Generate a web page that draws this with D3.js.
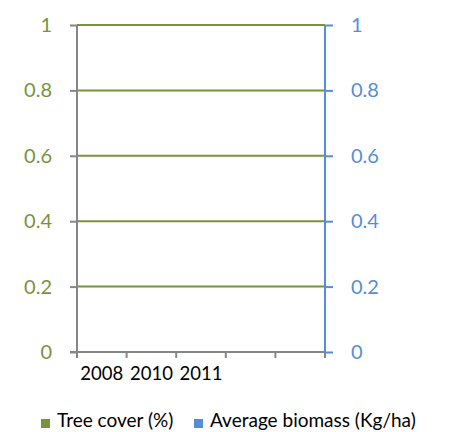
<!DOCTYPE html>
<html>
<head>
<meta charset="utf-8">
<script src="https://cdn.jsdelivr.net/npm/d3@7"></script>
<style>
body { margin: 0; background: #fff; overflow: hidden; }
svg text { font-family: "Lato", "Open Sans", sans-serif; }
</style>
</head>
<body>
<div id="chart"></div>
<script>
const W = 450, H = 432;
const margin = { top: 25, right: 125, bottom: 80, left: 77 };

// categories (two trailing slots have no label)
const years = ["2008", "2010", "2011", "c4", "c5"];
const yearLabels = ["2008", "2010", "2011", "", ""];
// series values: nothing plotted in the reference
const treeCover = [null, null, null, null, null];
const biomass = [null, null, null, null, null];
const leftTicks = [0, 0.2, 0.4, 0.6, 0.8, 1];
const rightTicks = [0, 0.2, 0.4, 0.6, 0.8, 1];
const seriesNames = ["Tree cover (%)", "Average biomass (Kg/ha)"];

const green = "#77933C", blue = "#558ED5", grey = "#868686";

const svg = d3.select("#chart").append("svg")
    .attr("width", W).attr("height", H);

const x = d3.scaleBand().domain(years).range([margin.left, W - margin.right]);
const yL = d3.scaleLinear().domain([0, 1]).range([H - margin.bottom, margin.top]);
const yR = d3.scaleLinear().domain([0, 1]).range([H - margin.bottom, margin.top]);

// gridlines
svg.append("g")
    .selectAll("line")
    .data(leftTicks.filter(d => d > 0))
    .enter()
    .append("line")
    .attr("x1", margin.left).attr("x2", W - margin.right)
    .attr("y1", d => yL(d)).attr("y2", d => yL(d))
    .attr("stroke", green).attr("stroke-width", 2);

// bars (empty data)
const bw = x.bandwidth() / 3;
svg.append("g").selectAll("rect")
    .data(treeCover.map((v, i) => ({ v, k: years[i] })).filter(d => d.v != null))
    .enter().append("rect")
    .attr("x", d => x(d.k) + bw * 0.5).attr("width", bw)
    .attr("y", d => yL(d.v)).attr("height", d => yL(0) - yL(d.v))
    .attr("fill", "#77933C");
svg.append("g").selectAll("rect")
    .data(biomass.map((v, i) => ({ v, k: years[i] })).filter(d => d.v != null))
    .enter().append("rect")
    .attr("x", d => x(d.k) + bw * 1.5).attr("width", bw)
    .attr("y", d => yR(d.v)).attr("height", d => yR(0) - yR(d.v))
    .attr("fill", "#4F81BD");

// left axis
const leftAxis = svg.append("g")
    .attr("transform", `translate(${margin.left},0)`)
    .call(d3.axisLeft(yL).tickValues(leftTicks).tickFormat(d3.format("~g")).tickSize(7).tickPadding(18));
leftAxis.select(".domain").attr("stroke", grey).attr("stroke-width", 2).attr("d", `M0,${yL(1)}V${yL(0)}`);
leftAxis.selectAll(".tick line").attr("stroke", grey).attr("stroke-width", 2);
leftAxis.selectAll(".tick text").attr("fill", green).style("font-size", "20px");

// bottom axis
const bottomAxis = svg.append("g")
    .attr("transform", `translate(0,${yL(0)})`)
    .call(d3.axisBottom(x).tickFormat((d, i) => yearLabels[i]).tickSize(0).tickPadding(15));
bottomAxis.select(".domain").attr("stroke", grey).attr("stroke-width", 2)
    .attr("d", `M${margin.left - 7},0H${W - margin.right}`);
bottomAxis.selectAll(".tick text").attr("fill", "#000").style("font-size", "18.5px");
bottomAxis.append("g").selectAll("line")
    .data(years.map(d => x(d)).concat([x(years[years.length - 1]) + x.bandwidth()]))
    .enter().append("line")
    .attr("x1", d => d).attr("x2", d => d).attr("y1", 0).attr("y2", 6)
    .attr("stroke", grey).attr("stroke-width", 2);

// right axis
const rightAxis = svg.append("g")
    .attr("transform", `translate(${W - margin.right},0)`)
    .call(d3.axisRight(yR).tickValues(rightTicks).tickFormat(d3.format("~g")).tickSize(8).tickPadding(18));
rightAxis.select(".domain").attr("stroke", blue).attr("stroke-width", 2).attr("d", `M0,${yR(1)}V${yR(0)}`);
rightAxis.selectAll(".tick line").attr("stroke", blue).attr("stroke-width", 2);
rightAxis.selectAll(".tick text").attr("fill", blue).style("font-size", "20px");

// legend
const legend = svg.append("g").attr("transform", "translate(0,427)");
const lx = [41, 194];
const lc = ["#77933C", "#558ED5"];
seriesNames.forEach((name, i) => {
    legend.append("rect")
        .attr("x", lx[i]).attr("y", -8).attr("width", 9).attr("height", 9)
        .attr("fill", lc[i]);
    legend.append("text")
        .attr("x", lx[i] + 16).attr("y", 0)
        .style("font-size", "19px").attr("fill", "#000")
        .text(name);
});
</script>
</body>
</html>
